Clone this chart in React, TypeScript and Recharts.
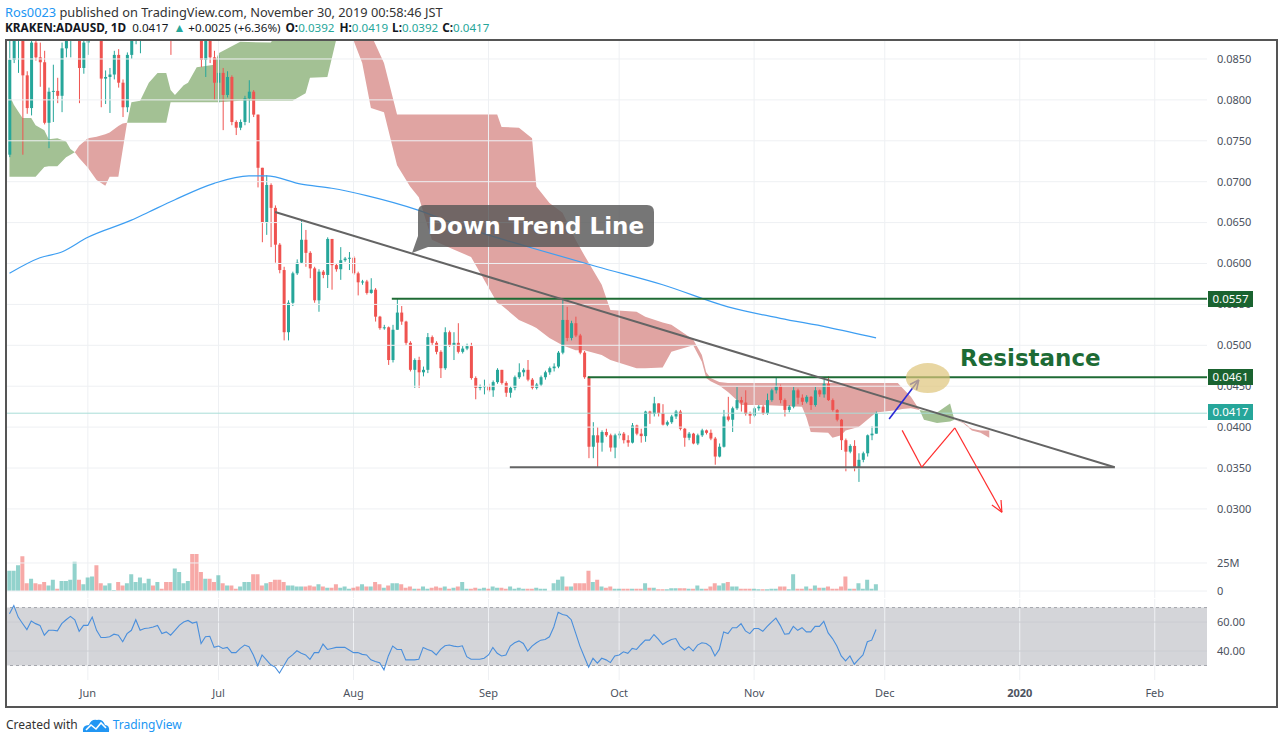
import React from "react";
import {
  Area,
  Bar,
  Cell,
  ComposedChart,
  Line,
  ReferenceArea,
  ReferenceDot,
  ReferenceLine,
  XAxis,
  YAxis,
} from "recharts";

const W = 1279;
const H = 741;
const X_DOMAIN: [number, number] = [-0.57, 275];
const FONT = "'Noto Sans', 'Open Sans', sans-serif";
const UP = "#26a69a";
const DOWN = "#ef5350";
const GRID = "#eef0f3";
const AXIS_TEXT = "#4c525e";

// day 0 = 2019-05-14, one candle per day
const FIRST_OPEN = 0.0733;

const closes = [
  0.0849, 0.09, 0.0905, 0.083, 0.079, 0.087, 0.0852, 0.0846, 0.0772, 0.081,
  0.0811, 0.0805, 0.0863, 0.0885, 0.0895, 0.0905, 0.0839, 0.087, 0.0888, 0.09,
  0.089, 0.0826, 0.0828, 0.0831, 0.0855, 0.0821, 0.0791, 0.0855, 0.0875, 0.089,
  0.09, 0.091, 0.0925, 0.0915, 0.093, 0.092, 0.0905, 0.09, 0.094, 0.097,
  0.099, 0.1, 0.096, 0.091, 0.0849, 0.0885, 0.0852, 0.0821, 0.0833, 0.0806,
  0.0828, 0.0773, 0.0766, 0.0773, 0.0802, 0.081, 0.0782, 0.0717, 0.065, 0.0696,
  0.0668, 0.0623, 0.0592, 0.0516, 0.0552, 0.0588, 0.0601, 0.0629, 0.0613, 0.0594,
  0.0555, 0.059, 0.0586, 0.063, 0.0598, 0.0593, 0.0604, 0.0606, 0.0607, 0.0588,
  0.0577, 0.0578, 0.0564, 0.0568, 0.0535, 0.0521, 0.0522, 0.0482, 0.0519, 0.054,
  0.0529, 0.0503, 0.047, 0.0482, 0.0467, 0.047, 0.051, 0.0503, 0.0492, 0.0472,
  0.0516, 0.05, 0.0503, 0.0492, 0.0496, 0.0499, 0.046, 0.0448, 0.0449, 0.045,
  0.0445, 0.0455, 0.047, 0.0454, 0.0442, 0.0448, 0.0461, 0.0467, 0.047, 0.0458,
  0.0448, 0.0452, 0.0461, 0.0467, 0.0472, 0.0474, 0.0491, 0.0531, 0.0509, 0.0527,
  0.0512, 0.0491, 0.0461, 0.0376, 0.039, 0.0381, 0.0394, 0.039, 0.0375, 0.039,
  0.0392, 0.0384, 0.0381, 0.0402, 0.0392, 0.0389, 0.0419, 0.0416, 0.0429, 0.0417,
  0.0403, 0.0406, 0.0413, 0.0419, 0.0398, 0.0387, 0.0392, 0.038, 0.039, 0.0396,
  0.0393, 0.0386, 0.0364, 0.0376, 0.0413, 0.0409, 0.0423, 0.0433, 0.043, 0.0416,
  0.0414, 0.0423, 0.0425, 0.0417, 0.0433, 0.0445, 0.045, 0.0433, 0.0421, 0.0425,
  0.0445, 0.0436, 0.0431, 0.0437, 0.0427, 0.0445, 0.044, 0.0453, 0.0433, 0.0421,
  0.0409, 0.0384, 0.037, 0.0377, 0.035, 0.036, 0.0368, 0.039, 0.0392, 0.0417,
];

const highs = [
  0.09, 0.0925, 0.094, 0.091, 0.0835, 0.0875, 0.0876, 0.087, 0.086, 0.0815,
  0.0843, 0.0827, 0.087, 0.09, 0.091, 0.093, 0.091, 0.088, 0.09, 0.092,
  0.0915, 0.0895, 0.0836, 0.0839, 0.086, 0.0862, 0.0825, 0.0858, 0.0885, 0.0905,
  0.0915, 0.093, 0.0945, 0.094, 0.095, 0.0945, 0.093, 0.0925, 0.096, 0.099,
  0.101, 0.104, 0.102, 0.098, 0.092, 0.09, 0.089, 0.086, 0.0855, 0.0839,
  0.0835, 0.083, 0.0775, 0.0776, 0.0805, 0.0824, 0.0812, 0.0782, 0.0717, 0.0708,
  0.0698, 0.0671, 0.0625, 0.0596, 0.0555, 0.059, 0.0605, 0.0653, 0.0641, 0.0615,
  0.0596, 0.0593, 0.0592, 0.0632, 0.063, 0.06, 0.062, 0.0608, 0.0614, 0.0609,
  0.059, 0.058, 0.058, 0.0582, 0.057, 0.0536, 0.0525, 0.0523, 0.0525, 0.0557,
  0.0548, 0.053, 0.0505, 0.0484, 0.0486, 0.0474, 0.0515, 0.0512, 0.0505, 0.0494,
  0.0522, 0.0518, 0.0516, 0.0527, 0.0499, 0.0502, 0.0503, 0.0462, 0.0452, 0.0458,
  0.0453, 0.0457, 0.0472, 0.047, 0.0456, 0.045, 0.0463, 0.0478, 0.0472, 0.0482,
  0.046, 0.0454, 0.0463, 0.0469, 0.0474, 0.0478, 0.0493, 0.0557, 0.0547, 0.053,
  0.0535, 0.0514, 0.0493, 0.0462, 0.0406, 0.04, 0.0396, 0.0398, 0.0392, 0.0392,
  0.0395, 0.0394, 0.039, 0.0405, 0.0403, 0.0398, 0.042, 0.042, 0.0437, 0.0428,
  0.0428, 0.0408, 0.0415, 0.0421, 0.0421, 0.0399, 0.0394, 0.0393, 0.0392, 0.0398,
  0.0397, 0.0397, 0.0388, 0.038, 0.0421, 0.0437, 0.0425, 0.0449, 0.0437, 0.0445,
  0.0419, 0.0425, 0.0427, 0.0427, 0.0441, 0.0447, 0.0461, 0.0452, 0.0435, 0.0427,
  0.0449, 0.0447, 0.044, 0.0439, 0.0438, 0.0449, 0.0446, 0.0458, 0.0462, 0.0435,
  0.0422, 0.041, 0.0386, 0.0379, 0.0384, 0.0368, 0.037, 0.0391, 0.0401, 0.0419,
];

const lows = [
  0.073, 0.0845, 0.0833, 0.0733, 0.0783, 0.0781, 0.0848, 0.0816, 0.077, 0.0741,
  0.0773, 0.0796, 0.0785, 0.0852, 0.0852, 0.0875, 0.0796, 0.0832, 0.0855, 0.0876,
  0.0875, 0.0791, 0.0795, 0.0784, 0.0825, 0.0815, 0.0779, 0.0785, 0.085, 0.0868,
  0.0857, 0.088, 0.089, 0.0895, 0.09, 0.0895, 0.088, 0.0855, 0.089, 0.093,
  0.095, 0.096, 0.09, 0.088, 0.084, 0.0828, 0.0845, 0.08, 0.0797, 0.0763,
  0.0803, 0.0769, 0.0757, 0.0763, 0.0769, 0.0772, 0.0779, 0.0693, 0.0626, 0.0635,
  0.062, 0.0601, 0.0588, 0.0506, 0.0506, 0.0548, 0.0586, 0.06, 0.0596, 0.0582,
  0.0552, 0.0541, 0.0582, 0.057, 0.0568, 0.059, 0.058, 0.0602, 0.0592, 0.0586,
  0.0561, 0.0574, 0.0562, 0.0563, 0.0529, 0.0519, 0.0519, 0.0476, 0.0479, 0.0519,
  0.0525, 0.05, 0.0468, 0.0448, 0.0448, 0.0462, 0.0466, 0.05, 0.0489, 0.046,
  0.047, 0.0498, 0.0482, 0.049, 0.049, 0.0494, 0.0458, 0.0434, 0.0445, 0.044,
  0.0443, 0.0437, 0.0453, 0.0452, 0.0437, 0.0436, 0.0445, 0.0459, 0.0462, 0.0456,
  0.0446, 0.0446, 0.045, 0.0458, 0.0464, 0.0468, 0.0472, 0.0489, 0.0505, 0.0506,
  0.051, 0.0489, 0.0459, 0.0362, 0.0362, 0.0351, 0.037, 0.0388, 0.037, 0.0362,
  0.0386, 0.038, 0.0376, 0.038, 0.039, 0.0381, 0.0382, 0.0404, 0.0413, 0.0413,
  0.0402, 0.0401, 0.0404, 0.041, 0.0396, 0.0376, 0.0384, 0.0379, 0.0378, 0.0388,
  0.0391, 0.0384, 0.0354, 0.0363, 0.0375, 0.0407, 0.0394, 0.0421, 0.0419, 0.0414,
  0.0404, 0.0412, 0.042, 0.0415, 0.0415, 0.0431, 0.0441, 0.0429, 0.0413, 0.0418,
  0.0423, 0.0428, 0.0427, 0.0429, 0.0421, 0.0425, 0.0437, 0.0436, 0.0432, 0.0419,
  0.0407, 0.0372, 0.0346, 0.0368, 0.0346, 0.0333, 0.0357, 0.0364, 0.0384, 0.0392,
];

// volume in millions
const volumes = [
  18, 18, 23, 31, 7, 11, 7, 6, 8, 5,
  10, 2, 9, 9, 10, 26, 10, 6, 12, 13,
  23, 7, 5, 7, 1, 8, 5, 7, 15, 8,
  12, 7, 11, 5, 8, 2, 8, 8, 20, 17,
  7, 9, 33, 33, 17, 11, 11, 8, 14, 7,
  5, 5, 2, 4, 8, 8, 15, 15, 5, 7,
  8, 10, 10, 8, 5, 5, 4, 4, 4, 5,
  4, 6, 4, 3, 3, 6, 3, 4, 2, 3,
  4, 6, 4, 4, 8, 6, 3, 5, 7, 7,
  6, 3, 4, 2, 2, 4, 2, 3, 4, 3,
  4, 2, 3, 4, 8, 2, 2, 3, 2, 3,
  2, 4, 3, 3, 2, 4, 2, 3, 2, 2,
  2, 3, 2, 2, 0, 7, 10, 13, 4, 4,
  7, 7, 7, 18, 8, 10, 4, 3, 4, 2,
  2, 2, 2, 2, 2, 2, 7, 3, 3, 1.5,
  1.5, 1.5, 2.5, 2.5, 2.5, 2.5, 2, 2, 5, 2,
  2, 4, 7, 5, 7, 8, 4, 4, 2, 2,
  2, 2, 1.5, 1.5, 1.5, 2, 2, 4, 4, 1.5,
  15, 2, 2, 4, 2, 5, 3, 3, 4, 2,
  2, 4, 13, 2, 2, 7, 2, 10, 2, 6,
];

const rsiValues = [
  65.7, 71.4, 63.4, 59, 54.8, 60.7, 58.9, 57.7, 50.9, 54.3,
  54.3, 53.9, 58.9, 61.6, 63.9, 61.6, 53.6, 57.7, 57.7, 63.4,
  54.3, 49.3, 49.3, 49.8, 51.6, 50.9, 46.4, 52, 54.3, 61.6,
  54.3, 55.5, 55.9, 56.6, 57.7, 52, 53.2, 50.9, 54.3, 57.7,
  60, 61.1, 59.3, 60, 45.2, 49.8, 50.2, 42.5, 43.4, 41.8,
  42.5, 38.9, 38.9, 41.8, 44.1, 43, 37.3, 29.8, 37.3, 33.9,
  30.5, 28.9, 24.8, 29.8, 35, 37.3, 40.2, 38.4, 37.3, 34.3,
  38.9, 38.9, 44.8, 41.1, 41.8, 42.5, 42.5, 42.5, 40.7, 38.9,
  38.9, 37.7, 37.3, 33.9, 32.7, 32, 27, 36.6, 43.4, 41.1,
  41.1, 33.9, 33.9, 33.9, 34.3, 42.5, 41.1, 40, 37.3, 41.1,
  43.6, 44.1, 43.4, 43, 43.6, 36.1, 34.3, 34.3, 34.3, 35,
  37.3, 42.5, 38.4, 36.6, 37.3, 43.4, 45.7, 47, 45.2, 40,
  43.4, 45.7, 47.5, 48, 49.8, 56.6, 66.8, 65.2, 64.5, 61.6,
  52.5, 43.4, 36, 28.9, 35, 31.6, 35, 33.9, 32, 36.6,
  37.3, 39.5, 38.4, 41.8, 41.1, 44.5, 47.5, 47.5, 51.4, 48.2,
  44.5, 46.4, 48, 48.6, 43.4, 40.7, 43, 40, 44.1, 45.7,
  45.2, 43, 36.6, 41.1, 53.2, 52, 56.1, 56.1, 58.9, 53.9,
  52, 55.5, 55.5, 53.6, 57, 60, 62.7, 57.7, 51.6, 52,
  57, 54.3, 56.1, 53.2, 53.2, 57, 57, 60.5, 52.5, 48.6,
  43.4, 36.6, 33.2, 36.6, 30.9, 34.3, 37.3, 46.4, 47.5, 54.8,
];

// 200-day moving average, read at a few days
const maDays = [0, 7, 12, 18, 28, 32, 38, 47, 55, 59, 67, 74, 82, 94, 104, 120, 135, 150, 165, 177, 188, 199];
const maValues = [
  0.0588, 0.0607, 0.0614, 0.0632, 0.0653, 0.0663, 0.0678, 0.0698, 0.0707, 0.0707, 0.0697,
  0.0692, 0.0683, 0.0665, 0.0645, 0.0619, 0.0596, 0.0574, 0.0547, 0.0533, 0.0522, 0.0509,
];

// Ichimoku cloud (senkou span A / B), shifted 26 days ahead
const cloudDays = [
  0, 1, 3, 5, 6, 8, 9, 11, 13, 14, 15,
  16, 18, 20, 22, 23, 25, 26, 27,
  28, 30, 32, 34, 36, 37, 38, 40, 41, 43, 47, 48, 53, 60, 62, 65, 66, 68, 69, 73, 75, 77, 78,
  79, 81, 83, 86, 89, 92, 94, 97, 102, 106, 112, 113, 117, 120, 121, 124, 127, 130, 132, 136,
  138, 144, 146, 150, 152, 157, 159, 160, 161, 163, 165, 167, 168, 173, 182, 183, 184, 188, 189,
  191, 192, 195, 199, 204, 205, 207, 209,
  210, 213, 216, 217,
  219, 221, 223, 225,
];
const spanA = [
  0.0806, 0.0794, 0.0778, 0.0778, 0.0769, 0.0763, 0.0752, 0.0753, 0.0749, 0.074, 0.0736,
  0.0729, 0.0717, 0.0702, 0.0695, 0.0706, 0.0706, 0.0739, 0.0772,
  0.0797, 0.0799, 0.0821, 0.0833, 0.0833, 0.0812, 0.0806, 0.0818, 0.0821, 0.084, 0.0843, 0.0857,
  0.0871, 0.087, 0.0885, 0.089, 0.0895, 0.09, 0.09, 0.0905, 0.0905, 0.0905, 0.09,
  0.0873, 0.0845, 0.079, 0.0785, 0.072, 0.0694, 0.0681, 0.0629, 0.0617, 0.0608, 0.0552, 0.0549,
  0.0531, 0.0524, 0.0521, 0.0509, 0.05, 0.0494, 0.0494, 0.0488,
  0.0482, 0.0472, 0.0472, 0.0473, 0.0492, 0.05, 0.048, 0.046, 0.0456, 0.0451, 0.0443, 0.0433,
  0.0427, 0.0427, 0.0425, 0.0412, 0.0394, 0.0393, 0.0387,
  0.039, 0.0396, 0.04, 0.0418, 0.0421, 0.0422, 0.0423, 0.0421,
  0.042, 0.0418, 0.0429, 0.0409,
  0.0405, 0.0396, 0.0393, 0.0387,
];
const spanB = [
  0.0706, 0.0706, 0.0706, 0.0706, 0.0706, 0.0718, 0.0719, 0.0719, 0.073, 0.0733, 0.0736,
  0.0744, 0.0753, 0.0755, 0.0758, 0.076, 0.0768, 0.0771, 0.0772,
  0.0772, 0.0772, 0.0772, 0.0772, 0.0772, 0.0797, 0.0797, 0.0797, 0.0797, 0.0797, 0.0797, 0.0797,
  0.0799, 0.0799, 0.0799, 0.0799, 0.0802, 0.0808, 0.0827, 0.0828, 0.0873, 0.0895, 0.09,
  0.0905, 0.0895, 0.088, 0.0845, 0.0782, 0.0782, 0.0782, 0.0782, 0.0782, 0.0782, 0.0782, 0.0767,
  0.0766, 0.0753, 0.0694, 0.0674, 0.0662, 0.0629, 0.061, 0.0574,
  0.0543, 0.0541, 0.0535, 0.0528, 0.0525, 0.0507, 0.0488, 0.0467, 0.046, 0.0455, 0.0454, 0.0454,
  0.0454, 0.0454, 0.0454, 0.0454, 0.0454, 0.0454, 0.0454,
  0.0454, 0.0454, 0.0454, 0.0454, 0.0454, 0.0448, 0.0437, 0.0421,
  0.0409, 0.0405, 0.0407, 0.0409,
  0.0406, 0.0398, 0.0396, 0.0396,
];

const monthDays = [18, 48, 79, 110, 140, 171, 201, 232, 263];
const monthLabels = ["Jun", "Jul", "Aug", "Sep", "Oct", "Nov", "Dec", "2020", "Feb"];
const priceTicks = [0.03, 0.035, 0.04, 0.045, 0.05, 0.055, 0.06, 0.065, 0.07, 0.075, 0.08, 0.085];
const volumeTicks = [0, 25e6];
const rsiTicks = [40, 60];

// drawn annotations (data coordinates)
const lastPrice = 0.0417;
const levelHigh = 0.0557;
const levelHighFrom = 87.8;
const levelMid = 0.0461;
const levelMidFrom = 132.8;
const supportLevel = 0.0351;
const supportFrom = 114.9;
const trendFrom = { x: 61, y: 0.0663 };
const trendTo = { x: 253.8, y: 0.0351 };
const zigzag = [
  { x: 205, y: 0.0396 },
  { x: 209.5, y: 0.0351 },
  { x: 217.1, y: 0.0399 },
  { x: 227.9, y: 0.0296 },
];
const zigzagHead = [
  { x: 227.7, y: 0.03109 },
  { x: 225.6, y: 0.03048 },
];
const upArrow = [
  { x: 202, y: 0.041 },
  { x: 208.8, y: 0.04576 },
];
const upArrowHead = [
  { x: 208.3, y: 0.04456 },
  { x: 206.8, y: 0.0452 },
];
const targetZone = { x: 210.9, y: 0.046 };

const LAST_CLOUD_DAY = 225;

const priceRows: any[] = [];
for (let d = 0; d <= LAST_CLOUD_DAY; d++) {
  const row: any = { d };
  if (d < closes.length) {
    const o = d === 0 ? FIRST_OPEN : closes[d - 1];
    const c = closes[d];
    const h = Math.max(highs[d], o, c);
    const l = Math.min(lows[d], o, c);
    row.o = o;
    row.c = c;
    row.h = h;
    row.l = l;
    row.candle = [l, h];
  }
  priceRows.push(row);
}
maDays.forEach((d, i) => {
  priceRows[d].ma = maValues[i];
});
cloudDays.forEach((d, i) => {
  const a = spanA[i];
  const b = spanB[i];
  if (a >= b) priceRows[d].cloudG = [b, a];
  if (a <= b) priceRows[d].cloudR = [a, b];
});

const volumeRows = volumes.map((v, d) => ({
  d,
  vol: v * 1e6,
  up: closes[d] >= (d === 0 ? FIRST_OPEN : closes[d - 1]),
}));

const rsiRows = rsiValues.map((r, d) => ({ d, rsi: r }));

const Candle = (props: any) => {
  const { x, y, width, height, payload } = props;
  if (!payload || payload.candle == null) return null;
  const { o, c, h, l } = payload;
  const k = h === l ? 0 : height / (h - l);
  const cx = x + width / 2;
  const yo = y + (h - o) * k;
  const yc = y + (h - c) * k;
  const top = Math.min(yo, yc);
  const bh = Math.max(1, Math.abs(yo - yc));
  const color = c >= o ? UP : DOWN;
  return (
    <g>
      <line x1={cx} x2={cx} y1={y} y2={y + height} stroke={color} strokeWidth={1} />
      <rect x={x} y={top} width={width} height={bh} fill={color} />
    </g>
  );
};

const MonthTick = ({ x, y, payload }: any) => {
  const label = monthLabels[monthDays.indexOf(payload.value)];
  return (
    <text
      x={x}
      y={y}
      dy="0.71em"
      textAnchor="middle"
      fontSize={11}
      fontFamily={FONT}
      fontWeight={label === "2020" ? 700 : 400}
      fill={AXIS_TEXT}
    >
      {label}
    </text>
  );
};

const PriceLabel = ({ top, text, bg }: { top: number; text: string; bg: string }) => (
  <div
    style={{
      position: "absolute",
      left: 1208,
      top: top - 8,
      width: 45,
      height: 16,
      background: bg,
      color: "#fff",
      fontSize: 11.5,
      lineHeight: "16px",
      textAlign: "center",
      fontFamily: FONT,
    }}
  >
    {text}
  </div>
);

const segLine = (a: { x: number; y: number }, b: { x: number; y: number }, stroke: string, w: number, key: string) => (
  <ReferenceLine key={key} segment={[a, b]} stroke={stroke} strokeWidth={w} ifOverflow="visible" />
);

const layer: React.CSSProperties = { position: "absolute", left: 0, top: 0 };
const bold: React.CSSProperties = { fontWeight: 700, fontSize: 11.8 };
const val: React.CSSProperties = { color: UP };

export default function App() {
  return (
    <div
      style={{
        position: "absolute",
        left: 0,
        top: 0,
        width: W,
        height: H,
        background: "#fff",
        fontFamily: FONT,
        overflow: "hidden",
      }}
    >
      <div style={{ position: "absolute", left: 5, top: 3, fontSize: 12.8, color: "#333", whiteSpace: "nowrap" }}>
        <span style={{ color: "#2196f3" }}>Ros0023</span> published on TradingView.com, November 30, 2019 00:58:46 JST
      </div>
      <div style={{ position: "absolute", left: 5, top: 19, fontSize: 11.6, color: "#131722", whiteSpace: "nowrap" }}>
        <span style={bold}>KRAKEN:ADAUSD, 1D</span>
        <span style={{ marginLeft: 6 }}>0.0417</span>
        <span style={{ color: UP, fontSize: 12, margin: "0 3px 0 5px" }}>▲</span>
        <span>+0.0025 (+6.36%)</span>
        <span style={{ ...bold, marginLeft: 5 }}>O:</span>
        <span style={val}>0.0392</span>
        <span style={{ ...bold, marginLeft: 5 }}>H:</span>
        <span style={val}>0.0419</span>
        <span style={{ ...bold, marginLeft: 4 }}>L:</span>
        <span style={val}>0.0392</span>
        <span style={{ ...bold, marginLeft: 4 }}>C:</span>
        <span style={val}>0.0417</span>
      </div>

      {/* price pane */}
      <div style={layer}>
        <ComposedChart width={W} height={H} data={priceRows} margin={{ top: 40, right: 0, bottom: 143, left: 7 }}>
          <XAxis type="number" dataKey="d" domain={X_DOMAIN} allowDataOverflow hide />
          <YAxis
            orientation="right"
            domain={[0.01911, 0.08732]}
            allowDataOverflow
            ticks={priceTicks}
            interval={0}
            width={72}
            axisLine={false}
            tickLine={false}
            tickSize={0}
            tickMargin={10}
            tick={{ fontSize: 11, fill: AXIS_TEXT, fontFamily: FONT }}
            tickFormatter={(v: number) => v.toFixed(4)}
          />
          {monthDays.map((m) => (
            <ReferenceLine key={"mx" + m} x={m} stroke={GRID} />
          ))}
          {priceTicks.map((p) => (
            <ReferenceLine key={"py" + p} y={p} stroke={GRID} />
          ))}
          <Area
            dataKey="cloudG"
            type="linear"
            stroke="none"
            fill="#a3c194"
            fillOpacity={1}
            connectNulls
            isAnimationActive={false}
          />
          <Area
            dataKey="cloudR"
            type="linear"
            stroke="none"
            fill="#e0a4a2"
            fillOpacity={1}
            connectNulls
            isAnimationActive={false}
          />
          <Line
            dataKey="ma"
            type="monotone"
            stroke="#3d9ef2"
            strokeWidth={1.2}
            dot={false}
            connectNulls
            isAnimationActive={false}
          />
          <ReferenceLine y={lastPrice} stroke="#a8ddd7" strokeWidth={1} />
          {segLine({ x: levelHighFrom, y: levelHigh }, { x: X_DOMAIN[1], y: levelHigh }, "#1f6b35", 2, "lh")}
          {segLine({ x: levelMidFrom, y: levelMid }, { x: X_DOMAIN[1], y: levelMid }, "#1f6b35", 2, "lm")}
          <Bar dataKey="candle" barSize={3} shape={<Candle />} isAnimationActive={false} />
          {segLine({ x: supportFrom, y: supportLevel }, { x: trendTo.x, y: supportLevel }, "#646464", 2, "sup")}
          {segLine(trendFrom, trendTo, "#646464", 2, "trend")}
          {segLine(zigzag[0], zigzag[1], "#ff2d2d", 1.2, "z1")}
          {segLine(zigzag[1], zigzag[2], "#ff2d2d", 1.2, "z2")}
          {segLine(zigzag[2], zigzag[3], "#ff2d2d", 1.2, "z3")}
          {segLine(zigzag[3], zigzagHead[0], "#ff2d2d", 1.2, "z4")}
          {segLine(zigzag[3], zigzagHead[1], "#ff2d2d", 1.2, "z5")}
          <ReferenceDot
            x={targetZone.x}
            y={targetZone.y}
            ifOverflow="visible"
            shape={(p: any) => (
              <ellipse cx={p.cx} cy={p.cy} rx={22} ry={15} fill="rgba(222,196,122,0.7)" stroke="none" />
            )}
          />
          {segLine(upArrow[0], upArrow[1], "#2a2ad6", 1.6, "u1")}
          {segLine(upArrow[1], upArrowHead[0], "#2a2ad6", 1.6, "u2")}
          {segLine(upArrow[1], upArrowHead[1], "#2a2ad6", 1.6, "u3")}
        </ComposedChart>
      </div>

      {/* volume */}
      <div style={layer}>
        <ComposedChart width={W} height={H} data={volumeRows} margin={{ top: 540, right: 0, bottom: 150, left: 7 }}>
          <XAxis type="number" dataKey="d" domain={X_DOMAIN} allowDataOverflow hide />
          <YAxis
            orientation="right"
            domain={[0, 45.5e6]}
            ticks={volumeTicks}
            interval={0}
            width={72}
            axisLine={false}
            tickLine={false}
            tickSize={0}
            tickMargin={10}
            tick={{ fontSize: 11, fill: AXIS_TEXT, fontFamily: FONT }}
            tickFormatter={(v: number) => (v === 0 ? "0" : `${v / 1e6}M`)}
          />
          {volumeTicks.map((v) => (
            <ReferenceLine key={"vy" + v} y={v} stroke={GRID} />
          ))}
          <Bar dataKey="vol" barSize={4} isAnimationActive={false}>
            {volumeRows.map((r) => (
              <Cell key={r.d} fill={r.up ? "rgba(38,166,154,0.5)" : "rgba(239,83,80,0.5)"} />
            ))}
          </Bar>
        </ComposedChart>
      </div>

      {/* RSI + time axis */}
      <div style={layer}>
        <ComposedChart width={W} height={H} data={rsiRows} margin={{ top: 599, right: 0, bottom: 31, left: 7 }}>
          <XAxis
            type="number"
            dataKey="d"
            domain={X_DOMAIN}
            allowDataOverflow
            ticks={monthDays}
            interval={0}
            height={30}
            axisLine={false}
            tickLine={false}
            tickSize={0}
            tickMargin={9}
            tick={<MonthTick />}
          />
          <YAxis
            orientation="right"
            domain={[20, 75.9]}
            ticks={rsiTicks}
            interval={0}
            width={72}
            axisLine={false}
            tickLine={false}
            tickSize={0}
            tickMargin={10}
            tick={{ fontSize: 11, fill: AXIS_TEXT, fontFamily: FONT }}
            tickFormatter={(v: number) => v.toFixed(2)}
          />
          {monthDays.map((m) => (
            <ReferenceLine key={"rx" + m} x={m} stroke={GRID} />
          ))}
          <ReferenceArea y1={30} y2={70} fill="#d4d5d9" fillOpacity={1} stroke="none" />
          <ReferenceLine y={70} stroke="#a5a7ae" strokeDasharray="3 3" />
          <ReferenceLine y={30} stroke="#a5a7ae" strokeDasharray="3 3" />
          {rsiTicks.map((v) => (
            <ReferenceLine key={"ry" + v} y={v} stroke="#cbcdd2" />
          ))}
          <Line dataKey="rsi" type="linear" stroke="#4a8fdc" strokeWidth={1.1} dot={false} isAnimationActive={false} />
        </ComposedChart>
      </div>

      {/* callout */}
      <svg width={W} height={H} style={{ ...layer, pointerEvents: "none" }}>
        <path
          d="M425,205 H647 Q654,205 654,212 V240 Q654,247 647,247 H428 L412,253 L418,236 V212 Q418,205 425,205 Z"
          fill="rgba(88,88,88,0.82)"
        />
        <text
          x={536}
          y={234}
          textAnchor="middle"
          fontSize={23}
          fontWeight={700}
          fill="#fff"
          fontFamily="'DejaVu Sans', sans-serif"
        >
          Down Trend Line
        </text>
        <text x={960} y={366} fontSize={23} fontWeight={700} fill="#1d6b35" fontFamily="'DejaVu Sans', sans-serif">
          Resistance
        </text>
      </svg>

      <PriceLabel top={299} text="0.0557" bg="#1a6330" />
      <PriceLabel top={377} text="0.0461" bg="#1a6330" />
      <PriceLabel top={412} text="0.0417" bg={UP} />

      {/* frame */}
      <div
        style={{
          position: "absolute",
          left: 5,
          top: 39,
          width: 1273,
          height: 669,
          border: "2px solid #555",
          boxSizing: "border-box",
        }}
      />

      <div
        style={{
          position: "absolute",
          left: 6,
          top: 716,
          fontSize: 12,
          color: "#333",
          display: "flex",
          alignItems: "center",
          whiteSpace: "nowrap",
        }}
      >
        <span>Created with</span>
        <svg width={30} height={16} style={{ margin: "0 2px 0 3px" }}>
          <path d="M2 15 Q1 8 8 8 Q10 2 16 3 Q22 2 24 8 Q29 8 28 15 Z" fill="#2196f3" />
          <path d="M5 13 L10 8 L15 12 L20 6 L25 11" stroke="#fff" strokeWidth={1.6} fill="none" />
        </svg>
        <span style={{ color: "#2196f3" }}>TradingView</span>
      </div>
    </div>
  );
}
